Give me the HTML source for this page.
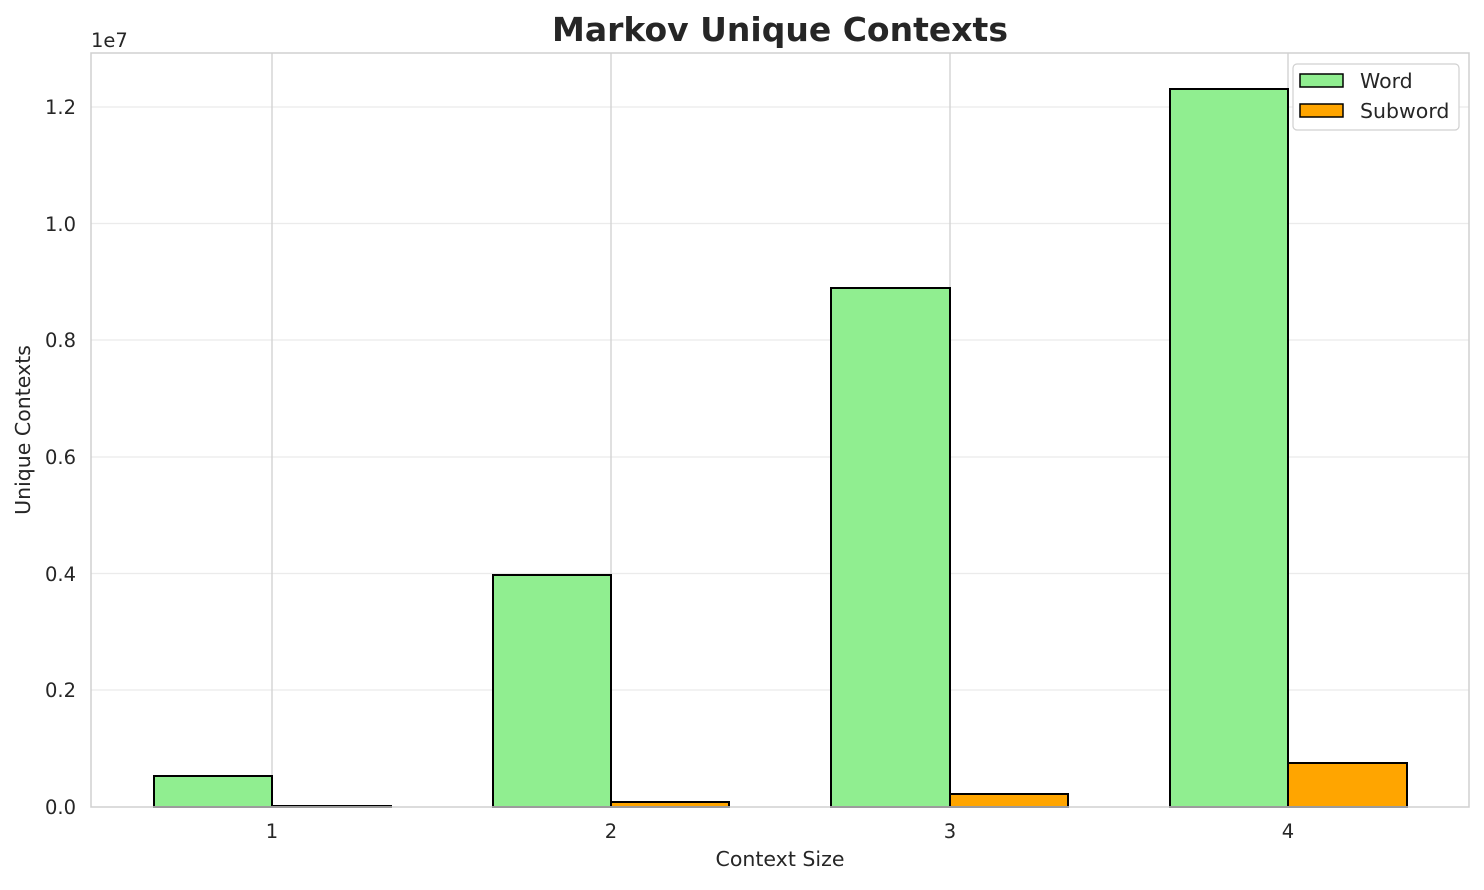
<!DOCTYPE html>
<html><head><meta charset="utf-8"><style>
body{margin:0;background:#fff;}
svg text{font-family:"DejaVu Sans","Liberation Sans",sans-serif;fill:#262626;}
</style></head><body>
<svg width="1484" height="885" xmlns="http://www.w3.org/2000/svg">
<rect width="1484" height="885" fill="#fff"/>
<g stroke="#ebebeb" stroke-width="1.2">
<line x1="91" x2="1469" y1="690" y2="690"/>
<line x1="91" x2="1469" y1="573.5" y2="573.5"/>
<line x1="91" x2="1469" y1="457" y2="457"/>
<line x1="91" x2="1469" y1="340" y2="340"/>
<line x1="91" x2="1469" y1="223.5" y2="223.5"/>
<line x1="91" x2="1469" y1="107" y2="107"/>
</g>
<g stroke="#d0d0d0" stroke-width="1.3">
<line x1="272" x2="272" y1="53" y2="807"/>
<line x1="611" x2="611" y1="53" y2="807"/>
<line x1="950" x2="950" y1="53" y2="807"/>
<line x1="1288" x2="1288" y1="53" y2="807"/>
</g>
<g stroke="#000" stroke-width="2">
<rect x="154" y="776" width="118" height="31" fill="#90ee90"/>
<rect x="272" y="806" width="119" height="1" fill="#ffa500"/>
<rect x="493" y="575" width="118" height="232" fill="#90ee90"/>
<rect x="611" y="802" width="118" height="5" fill="#ffa500"/>
<rect x="831" y="288" width="119" height="519" fill="#90ee90"/>
<rect x="950" y="794" width="118" height="13" fill="#ffa500"/>
<rect x="1170" y="89" width="118" height="718" fill="#90ee90"/>
<rect x="1288" y="763" width="119" height="44" fill="#ffa500"/>
</g>
<rect x="91" y="53" width="1378" height="754" fill="none" stroke="#d0d0d0" stroke-width="1.5"/>
<g font-size="19.5" text-anchor="end">
<text x="76" y="814">0.0</text>
<text x="76" y="697">0.2</text>
<text x="76" y="581">0.4</text>
<text x="76" y="464">0.6</text>
<text x="76" y="347">0.8</text>
<text x="76" y="231">1.0</text>
<text x="76" y="114">1.2</text>
</g>
<text x="91" y="47" font-size="19.5">1e7</text>
<g font-size="19.5" text-anchor="middle">
<text x="272" y="838">1</text>
<text x="611" y="838">2</text>
<text x="950" y="838">3</text>
<text x="1288" y="838">4</text>
</g>
<text x="780" y="866" font-size="20.5" text-anchor="middle">Context Size</text>
<text transform="translate(30,430) rotate(-90)" font-size="20.5" text-anchor="middle">Unique Contexts</text>
<text x="780" y="41" font-size="33" font-weight="bold" text-anchor="middle">Markov Unique Contexts</text>
<rect x="1293" y="64" width="166" height="66" rx="4" fill="#fff" stroke="#d0d0d0" stroke-width="1.2"/>
<rect x="1300" y="74" width="43" height="13" fill="#90ee90" stroke="#000" stroke-width="1.5"/>
<rect x="1300" y="104" width="43" height="13" fill="#ffa500" stroke="#000" stroke-width="1.5"/>
<text x="1360" y="88" font-size="20.5">Word</text>
<text x="1360" y="118" font-size="20.5">Subword</text>
</svg>
</body></html>
